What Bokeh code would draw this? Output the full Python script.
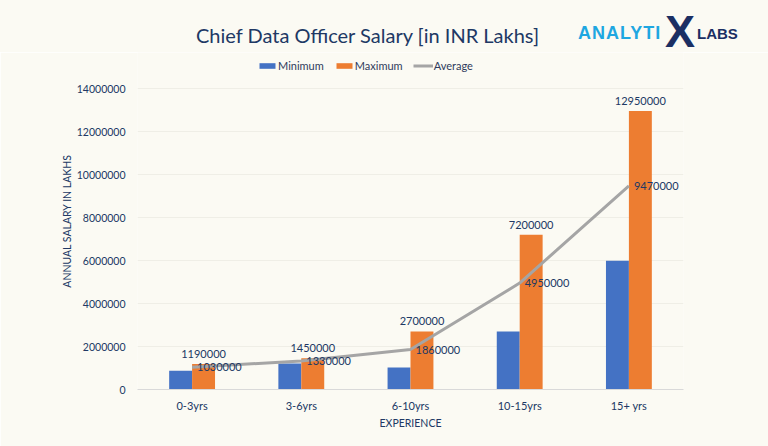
from bokeh.plotting import figure
from bokeh.models import (ColumnDataSource, LabelSet, Legend, LegendItem, FixedTicker,
                          NumeralTickFormatter, Div, Range1d)
from bokeh.layouts import column
from bokeh.transform import dodge
from bokeh.embed import file_html
from bokeh.resources import INLINE
from bokeh.core.properties import value

categories = ["0-3yrs", "3-6yrs", "6-10yrs", "10-15yrs", "15+ yrs"]
minimum = [870000, 1210000, 1020000, 2700000, 5990000]
maximum = [1190000, 1450000, 2700000, 7200000, 12950000]
average = [1030000, 1330000, 1860000, 4950000, 9470000]
y_ticks = [0, 2000000, 4000000, 6000000, 8000000, 10000000, 12000000, 14000000]
title_text = "Chief Data Officer Salary [in INR Lakhs]"

BG = "#FBFAF3"
NAVY = "#203864"
FONT = "Lato"
HEAD_H = 52
# pixel layout: axis top tick (14M) at page y=88, zero line at y=389, frame begins right under header
Y_TOP_PX, Y_ZERO_PX = 88, 389
y_end = y_ticks[-1] * (Y_ZERO_PX - HEAD_H) / (Y_ZERO_PX - Y_TOP_PX)

header = Div(width=768, height=HEAD_H, margin=0, styles={"background-color": BG}, text=f"""
<div style="position:relative;width:768px;height:{HEAD_H}px;background:{BG};">
  <span style="position:absolute;left:367.5px;top:35px;transform:translate(-50%,-50%);
        white-space:nowrap;font-family:Lato;font-size:20px;line-height:1;color:{NAVY};">{title_text}</span>
  <span style="position:absolute;left:578px;top:33px;transform:translate(0,-50%);
        white-space:nowrap;font-family:'Liberation Sans';font-weight:bold;font-size:18px;
        letter-spacing:1px;line-height:1;color:#1EA7E1;">ANALYTI</span>
  <span style="position:absolute;left:680px;top:31px;transform:translate(-50%,-50%);
        white-space:nowrap;font-family:'Liberation Sans';font-weight:bold;font-size:45px;
        line-height:1;color:#1B2F63;">X</span>
  <span style="position:absolute;left:697px;top:33px;transform:translate(0,-50%);
        white-space:nowrap;font-family:'Liberation Sans';font-weight:bold;font-size:15px;
        line-height:1;color:#1B2F63;">LABS</span>
</div>""")

src = ColumnDataSource(dict(
    cat=categories, mn=minimum, mx=maximum, avg=average,
    mx_lbl=[str(v) for v in maximum], avg_lbl=[str(v) for v in average],
))

p = figure(x_range=categories, y_range=Range1d(0, y_end), width=768, height=446 - HEAD_H,
           output_backend="svg", toolbar_location=None, title=None,
           min_border_left=137, min_border_right=85, min_border_top=0, min_border_bottom=57,
           background_fill_color=BG, border_fill_color=BG, outline_line_color=None)

rmin = p.vbar(x=dodge("cat", -0.105, range=p.x_range), top="mn", width=0.21, source=src,
              fill_color="#4472C4", line_color=None)
rmax = p.vbar(x=dodge("cat", 0.105, range=p.x_range), top="mx", width=0.21, source=src,
              fill_color="#ED7D31", line_color=None)
ravg = p.line(x="cat", y="avg", source=src, line_color="#A5A5A5", line_width=3)

p.add_layout(LabelSet(x=dodge("cat", 0.105, range=p.x_range), y="mx", text="mx_lbl", source=src,
                      text_align="center", text_baseline="bottom", y_offset=6,
                      text_font=value(FONT), text_font_size="11px", text_color=NAVY))
p.add_layout(LabelSet(x="cat", y="avg", text="avg_lbl", source=src,
                      text_align="left", text_baseline="middle", x_offset=5,
                      text_font=value(FONT), text_font_size="11px", text_color=NAVY))

# axes
p.yaxis.ticker = FixedTicker(ticks=y_ticks)
p.yaxis.formatter = NumeralTickFormatter(format="0")
p.yaxis.axis_line_color = None
p.yaxis.major_tick_line_color = None
p.yaxis.minor_tick_line_color = None
p.yaxis.major_label_text_font = FONT
p.yaxis.major_label_text_font_size = "10.5px"
p.yaxis.major_label_text_color = NAVY
p.yaxis.major_label_standoff = 6
p.yaxis.axis_label = "ANNUAL SALARY IN LAKHS"
p.yaxis.axis_label_text_font = FONT
p.yaxis.axis_label_text_font_size = "10.5px"
p.yaxis.axis_label_text_font_style = "normal"
p.yaxis.axis_label_text_color = NAVY
p.yaxis.axis_label_standoff = 1

p.xaxis.axis_line_color = "#D9D9D9"
p.xaxis.major_tick_line_color = None
p.xaxis.minor_tick_line_color = None
p.xaxis.major_label_text_font = FONT
p.xaxis.major_label_text_font_size = "11px"
p.xaxis.major_label_text_color = NAVY
p.xaxis.major_label_standoff = 3
p.xaxis.axis_label = "EXPERIENCE"
p.xaxis.axis_label_text_font = FONT
p.xaxis.axis_label_text_font_size = "10.5px"
p.xaxis.axis_label_text_font_style = "normal"
p.xaxis.axis_label_text_color = NAVY
p.xaxis.axis_label_standoff = 2

p.xgrid.grid_line_color = None
p.ygrid.grid_line_color = "#EFEEE6"

legend = Legend(items=[LegendItem(label="Minimum", renderers=[rmin]),
                       LegendItem(label="Maximum", renderers=[rmax]),
                       LegendItem(label="Average", renderers=[ravg])],
                orientation="horizontal", location=(120, 317),
                background_fill_alpha=0, border_line_color=None, padding=0, margin=0,
                spacing=10, glyph_width=20, glyph_height=7, label_standoff=1,
                label_text_font=FONT, label_text_font_size="11px", label_text_color="#2F3B5C",
                label_height=12)
p.add_layout(legend, "center")

layout = column(header, p, spacing=0)

html = file_html(layout, INLINE)
html = html.replace("<body>", '<body style="background:%s">' % BG, 1)
open("out.html", "w").write(html)
